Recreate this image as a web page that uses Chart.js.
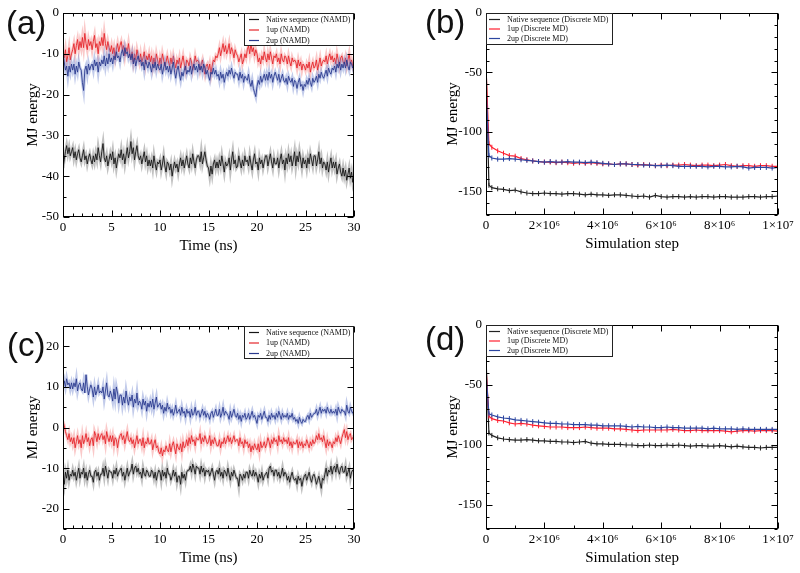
<!DOCTYPE html>
<html><head><meta charset="utf-8">
<script src="https://cdn.jsdelivr.net/npm/chart.js@4.4.1/dist/chart.umd.min.js"></script>
<style>
body{margin:0;background:#fff;width:800px;height:573px;position:relative;overflow:hidden}
canvas{position:absolute}
.lab{position:absolute;font-family:"Liberation Sans",Arial,sans-serif;font-size:33px;line-height:1;color:#111}
</style></head><body>
<canvas id="ca" width="400" height="290" style="left:0;top:0"></canvas>
<canvas id="cb" width="400" height="290" style="left:400px;top:0"></canvas>
<canvas id="cc" width="400" height="283" style="left:0;top:290px"></canvas>
<canvas id="cd" width="400" height="283" style="left:400px;top:290px"></canvas>
<div class="lab" style="left:6px;top:6px">(a)</div>
<div class="lab" style="left:425px;top:5px">(b)</div>
<div class="lab" style="left:7px;top:328px">(c)</div>
<div class="lab" style="left:425px;top:322px">(d)</div>
<script>
// ---------- categories ----------
const timeNs = Array.from({length:241},(_,i)=>i*0.125);
const simSteps = [0,100000,200000,400000,600000,800000,1000000,1200000,1400000,1600000,1800000,2000000,
 2200000,2400000,2600000,2800000,3000000,3200000,3400000,3600000,3800000,4000000,
 4200000,4400000,4600000,4800000,5000000,5200000,5400000,5600000,5800000,6000000,
 6200000,6400000,6600000,6800000,7000000,7200000,7400000,7600000,7800000,8000000,
 8200000,8400000,8600000,8800000,9000000,9200000,9400000,9600000,9800000,10000000];

// ---------- tick labels ----------
const timeTicks = [0,5,10,15,20,25,30];
const timeTickLabels = ['0','5','10','15','20','25','30'];
const timeMinor = [1,2,3,4,6,7,8,9,11,12,13,14,16,17,18,19,21,22,23,24,26,27,28,29];
const stepTicks = [0,2000000,4000000,6000000,8000000,10000000];
const stepTickLabels = ['0','2×10⁶','4×10⁶','6×10⁶','8×10⁶','1×10⁷'];
const stepMinor = [1000000,3000000,5000000,7000000,9000000];
const aYTicks = [-50,-40,-30,-20,-10,0];
const aYTickLabels = ['-50','-40','-30','-20','-10','0'];
const aYMinor = [-45,-35,-25,-15,-5];
const cYTicks = [-20,-10,0,10,20];
const cYTickLabels = ['-20','-10','0','10','20'];
const cYMinor = [-25,-15,-5,5,15,25];
const bdYTicks = [-150,-100,-50,0];
const bdYTickLabels = ['-150','-100','-50','0'];
const bdYMinor = [-170,-160,-140,-130,-120,-110,-90,-80,-70,-60,-40,-30,-20,-10];

// ---------- panel (a) NAMD (8 samples per ns) ----------
const aNative = [
-38,-36,-34,-32.5,-34.5,-33,-35,-34, -33,-35.5,-34,-36,-34.5,-33.5,-35.5,-36.5,
-35,-33.5,-36,-35,-37,-35.5,-34.5,-36, -37,-35,-36.5,-34.5,-36,-33,-35,-36.5,
-34,-32,-35.5,-36.5,-35,-37.5,-36,-34.5, -36,-34,-37,-35.5,-38,-36,-34.5,-35.5,
-33.5,-36,-34.5,-37,-35,-33,-35.5,-34, -31.5,-34.5,-33,-36,-34,-32.5,-35,-36,
-35,-37,-35.5,-34,-36.5,-35,-37.5,-36, -37.5,-36,-38,-35,-37,-38.5,-36.5,-37,
-36,-38.5,-37,-35,-37.5,-39,-36.5,-37, -38.5,-37,-40,-38,-36.5,-38,-37,-39,
-37,-35.5,-37.5,-36,-38,-36.5,-35,-37, -38,-35.5,-37,-34.5,-36.5,-38,-36,-35,
-35,-36.5,-34,-37,-35.5,-34,-36,-37.5, -38,-40,-37.5,-39.5,-37,-36,-38,-36.5,
-38,-36,-37.5,-35,-37,-39,-36.5,-37.5, -37,-35.5,-38.5,-36,-34,-37,-36,-38,
-37.5,-35,-36.5,-38,-36,-37.5,-35,-36.5, -36,-37.5,-35,-37,-38.5,-36,-34.5,-37,
-36.5,-38.5,-35.5,-37,-36,-38,-36.5,-35, -35,-37.5,-36,-34.5,-36.5,-38,-35.5,-37,
-37,-35.5,-38,-36,-34.5,-37,-36,-38.5, -35.5,-37,-34.5,-36.5,-35,-37.5,-36,-34,
-37.5,-35,-36.5,-34,-36,-38,-35.5,-37, -36,-38,-35.5,-37,-34.5,-36,-37.5,-35,
-35,-37.5,-36,-34,-37,-35.5,-38,-36.5, -37,-38.5,-36.5,-39,-37,-35.5,-38,-36.5,
-38,-36.5,-39.5,-38,-37,-39,-40,-38, -40,-38.5,-41,-39.5,-38,-40.5,-39,-41.5, -40];
const a1up = [
-10,-11,-9,-12,-10.5,-8.5,-11.5,-10, -9,-7.5,-10,-8,-6.5,-9,-7,-8.5,
-6,-8.5,-5,-7.5,-9,-6.5,-8,-7, -9,-7,-5.5,-8.5,-7.5,-10,-7,-8,
-6,-8,-5,-7.5,-9,-7,-8.5,-9.5, -8,-10,-8.5,-11,-9,-7.5,-9.5,-8,
-7,-9,-8,-10.5,-8.5,-9.5,-7.5,-10, -11,-9.5,-12,-10,-11.5,-9,-10.5,-12,
-10,-12,-11,-9.5,-12.5,-10.5,-11.5,-10, -12,-10.5,-13,-11,-12.5,-10,-11.5,-13,
-11,-12.5,-10,-11.5,-13,-12,-10.5,-12, -13,-11,-12.5,-10.5,-12,-13.5,-11.5,-12.5,
-11,-13.5,-12,-10.5,-12.5,-14,-11.5,-12, -13,-11,-12,-14,-12.5,-10.5,-12,-11.5,
-12,-14,-12.5,-11.5,-13.5,-15,-13,-12.5, -14,-12.5,-15,-13,-11.5,-12,-10.5,-11,
-10,-8.5,-10.5,-9,-7.5,-9.5,-8,-10, -9,-7.5,-10,-8.5,-9.5,-11,-9,-10,
-10.5,-12,-11,-10,-12.5,-11.5,-10,-11, -9,-8,-10,-7.5,-9.5,-8.5,-10.5,-9,
-10,-12,-11,-12.5,-10.5,-11.5,-9.5,-11, -12,-10,-11.5,-9.5,-11,-12.5,-10.5,-11,
-10,-12,-11,-12.5,-10,-11.5,-12,-10.5, -11,-12.5,-10.5,-12,-13,-11,-12,-11.5,
-12,-13.5,-11.5,-13,-12,-14,-12.5,-13, -14,-12.5,-13.5,-12,-14.5,-13,-12,-13.5,
-13,-11.5,-14,-12.5,-11,-13,-12,-11.5, -12,-10.5,-12.5,-11,-10,-11.5,-10.5,-12,
-11,-12.5,-10,-11.5,-13,-11,-10.5,-12, -12.5,-11,-13,-11.5,-10,-12.5,-11.5,-13, -12];
const a2up = [
-10,-12,-14,-13,-15.5,-13,-14.5,-12.5, -14,-12.5,-15,-13,-14.5,-12,-13.5,-14,
-17,-19,-14,-13,-15,-12.5,-14,-13, -12.5,-14,-11.5,-13,-12,-14.5,-12,-13,
-11.5,-12.5,-10.5,-13,-11,-12.5,-10,-12, -11,-12.5,-10.5,-11.5,-9.5,-11,-10.5,-12,
-10,-9,-10.5,-8.5,-10,-9.5,-11,-10, -11.5,-10,-12.5,-11,-13,-11.5,-10.5,-12,
-11.5,-13,-12,-14,-11.5,-12.5,-13.5,-12, -13,-14.5,-12.5,-13.5,-12,-14,-12.5,-13.5,
-14,-12.5,-15,-13.5,-12,-14,-13,-14.5, -13,-15,-13.5,-12,-14.5,-16,-14,-13,
-15,-16.5,-14.5,-15.5,-14,-13,-15,-14, -14.5,-13,-15,-13.5,-12.5,-14,-13,-14.5,
-12.5,-14,-13,-14.5,-12.5,-13.5,-15,-14, -15.5,-16.5,-14.5,-15,-13.5,-15,-14,-15.5,
-15,-16.5,-14.5,-16,-15,-17,-15.5,-14.5, -15.5,-14,-15,-13.5,-15,-16,-14.5,-15,
-15,-16.5,-14.5,-16,-15,-17,-15.5,-16, -16.5,-15,-17,-18,-16.5,-18.5,-19.5,-20.5,
-18,-16.5,-17.5,-15.5,-17,-16,-15,-16.5, -15,-16.5,-14.5,-16,-15,-17,-15.5,-14.5,
-15.5,-16.5,-15,-17,-16,-15,-16.5,-17, -16,-17.5,-15.5,-16.5,-17,-16,-18,-16.5,
-17,-18.5,-17,-16,-18,-17.5,-19,-17.5, -18,-16.5,-17.5,-16,-17,-18,-16,-17,
-16.5,-15.5,-17,-15,-16,-14.5,-15.5,-16, -15,-14,-15.5,-13.5,-14.5,-15,-13.5,-14,
-13,-14.5,-12.5,-13.5,-12,-14,-12.5,-13.5, -12,-13.5,-11.5,-13,-14,-12,-12.5,-13.5, -12.5];

// ---------- panel (c) NAMD (8 samples per ns) ----------
const cNative = [
-12,-14,-11,-12.5,-10.5,-13,-11.5,-12, -10.5,-12,-11,-13,-11.5,-10,-12.5,-11,
-11.5,-10,-12.5,-11,-13,-11.5,-10.5,-12, -12,-13.5,-11,-10.5,-12,-11,-13,-11.5,
-11.5,-10,-12,-9.5,-11,-12.5,-10.5,-11, -11,-12.5,-10.5,-11.5,-10,-12,-11,-10.5,
-10,-12,-11,-13,-11.5,-10,-12,-11, -10.5,-9,-11.5,-10,-9.5,-11,-10,-11.5,
-11,-12.5,-10,-11.5,-12,-10.5,-11,-12, -12,-10.5,-11,-12.5,-11,-13,-11.5,-10.5,
-11,-13,-10.5,-12,-11,-12.5,-10,-11.5, -11.5,-13,-12,-10.5,-12,-11,-13.5,-12,
-12,-14,-11,-12.5,-11.5,-13,-11,-10.5, -10.5,-9.5,-11,-9,-10,-11.5,-9.5,-10,
-10,-11.5,-9.5,-11,-10,-12,-10.5,-11, -10.5,-12,-11,-10,-11.5,-13,-11,-10.5,
-11.5,-10,-12,-11,-12.5,-10.5,-11,-12, -10,-11.5,-13,-11,-12,-10.5,-11.5,-12.5,
-12.5,-14.5,-11.5,-12,-13,-11.5,-12.5,-11, -11,-12.5,-10.5,-11.5,-12,-10.5,-12,-11,
-12,-13.5,-11.5,-12.5,-11,-13,-12,-11.5, -11,-12.5,-10,-9.5,-11,-10.5,-12,-10.5,
-10.5,-12,-11,-12.5,-11.5,-10,-12,-11, -11.5,-13,-12,-13.5,-12,-11,-12.5,-13,
-12.5,-14,-12,-13,-12.5,-14.5,-13,-12, -11.5,-13,-12,-11,-12.5,-13.5,-12,-11.5,
-12.5,-14,-13,-12,-13.5,-15,-12.5,-13, -11.5,-10,-12,-10.5,-11,-9.5,-11.5,-10,
-9.5,-11,-9,-10.5,-11.5,-10,-9.5,-11, -11,-9.5,-12,-11,-10,-12.5,-11,-10.5, -11];
const c1up = [
1.5,0.5,-1,-2,-3,-1.5,-3.5,-2.5, -4,-2.5,-5,-3.5,-2,-4,-3,-5,
-2,-4,-3,-1.5,-3.5,-2.5,-4.5,-3, -2.5,-4.5,-1,-2,-3.5,-1.5,-3,-2,
-1.5,-3,-2,-4,-1,-2.5,-3.5,-2, -3.5,-2,-4.5,-2.5,-3,-5,-3,-2,
-1.5,-3,-2,-4,-2.5,-1,-3,-3.5, -2.5,-4,-3,-5,-3.5,-2,-4,-3,
-3,-4.5,-2.5,-5,-3.5,-4,-2.5,-4, -4,-3,-5.5,-4,-3,-5,-4.5,-6,
-6.5,-5,-7,-5.5,-6,-4.5,-5.5,-6, -4,-6,-4.5,-3.5,-5,-6.5,-4,-5,
-5.5,-4,-6,-3.5,-5,-4.5,-3,-4.5, -2.5,-4,-2,-3.5,-3,-4.5,-2.5,-3,
-3,-1.5,-4,-2.5,-3.5,-2,-3,-4, -3.5,-2,-4.5,-3,-4,-2.5,-3.5,-4.5,
-4.5,-3,-5,-3.5,-4,-2.5,-4,-3, -2,-3.5,-2.5,-4,-3,-2,-3.5,-3,
-3,-4.5,-2.5,-4,-3.5,-5,-3,-4, -3.5,-5,-4,-6,-4.5,-5.5,-4,-5,
-5.5,-4,-6,-3.5,-5,-4.5,-3.5,-5, -4,-2.5,-3.5,-5,-3,-4,-2.5,-3.5,
-3,-4.5,-2,-3.5,-3,-4,-2.5,-3.5, -3,-4,-2.5,-4.5,-3.5,-5,-3.5,-4,
-4,-3,-5,-3.5,-4.5,-3.5,-5,-4, -4.5,-3,-4,-5,-3.5,-4.5,-3,-4,
-3.5,-2,-3,-1.5,-3,-2.5,-3.5,-2, -3.5,-5,-3,-4.5,-3.5,-4,-5,-3.5,
-4,-2.5,-3.5,-2,-3,-4,-2.5,-1.5, -0.5,-2.5,-1,-3,-2,-1.5,-3,-2.5, -2];
const c2up = [
10,11.5,10,12,10.5,11,9.5,11, 9.5,11,10,12,9,10.5,11,9.5,
9,11,8.5,13,10,8,9.5,10.5, 9.5,7.5,10,8,9,10.5,8.5,9,
8.5,10,7,9,11,8,7.5,9, 8,6.5,9.5,7,10,8.5,6,8,
8,5.5,7.5,6,9,7,5.5,7.5, 6.5,8,5,7,6,8.5,5.5,6.5,
6,4.5,7,5.5,6.5,4,6,5, 6.5,5,7,4.5,6,7.5,5,5.5,
6,4.5,5.5,3.5,5,4,6,4.5, 5,3.5,4.5,3,4,5.5,3.5,4,
4.5,3,5,3.5,4,2.5,4.5,3.5, 4,2.5,4.5,3,3.5,5,3,4,
4,2.5,3.5,4.5,3,4,2.5,3.5, 3,2,3.5,4,2.5,3.5,4.5,3,
3,4.5,2.5,3.5,5,3,4,3.5, 3,2,4,2.5,3.5,4.5,3,2.5,
3.5,2,3,1.5,3,2.5,3.5,2, 2.5,3.5,2,3,4,2.5,3,2,
1,3,2.5,3.5,2,3,4,2.5, 2.5,1.5,3,2,3.5,2.5,3,2,
3.5,2.5,4,3,2,3.5,2.5,3, 2.5,3.5,2,3,2.5,3.5,2,2.5,
1.5,2,1,2.5,1.5,1,2,1.5, 1.5,2.5,3,2,3.5,2.5,3,3.5,
3.5,4.5,3,4,5,3.5,4.5,4, 4.5,3.5,5,4,3.5,4.5,3.5,4,
3.5,4.5,3,5,4,3.5,4.5,4, 4,3,5.5,4,3.5,5,4,3.5, 4.5];

// ---------- panel (b) Discrete MD ----------
const bNative = [-40,-145,-147,-148,-148.5,-149.5,-149,-150.5,-151.5,-152,-152,-151.5,-152,-152,-152.5,-152,-152,-152.5,-153,-152.5,-153,-153,-153.5,-153,-153,-153.5,-154,-154.5,-154,-155,-153.5,-154.5,-155,-154.5,-154.5,-155,-154.5,-155,-154.5,-154.5,-155,-154.5,-154.5,-155,-155,-155,-154.5,-154.5,-155,-154.5,-154.5,-154];
const b1up = [-45,-110,-113,-116,-118,-120,-120.5,-122.5,-123.5,-124.5,-125,-125.5,-125.5,-126,-125.5,-126,-126.5,-126,-126.5,-126,-126.5,-127,-127,-127.5,-127,-127,-127.5,-128,-127.5,-128,-128.5,-128,-128.5,-128,-128,-127.5,-128,-128.5,-128,-128,-128.5,-128,-127.5,-128.5,-129,-128.5,-128.5,-129,-128.5,-128.5,-129,-129];
const b2up = [-60,-120,-122,-123,-123,-122.5,-123,-123.5,-124,-124.5,-125,-125.5,-125,-125.5,-125.5,-125,-125.5,-125.5,-126,-125.5,-126,-126.5,-127,-127.5,-127,-127,-127.5,-127.5,-128,-128,-128.5,-128.5,-128,-128.5,-129,-129,-129,-129,-129,-129.5,-129,-129,-129.5,-129.5,-129,-129.5,-130.5,-130,-130,-130,-130.5,-130];

// ---------- panel (d) Discrete MD ----------
const dNative = [-28,-90,-92,-94,-95,-95.5,-96,-96,-95.5,-96,-96.5,-96.5,-97,-97,-97.5,-97.5,-98,-97.5,-97,-98.5,-99,-99,-99.5,-99.5,-99.5,-100,-100,-100.5,-100.5,-100,-100.5,-100.5,-100,-100.5,-100,-100.5,-101,-100.5,-100.5,-101,-101,-100.5,-101,-101.5,-101,-101.5,-102,-102,-102.5,-102,-102,-102];
const d1up = [-35,-76,-78,-79.5,-80,-81.5,-82.5,-82,-82.5,-83.5,-84,-84.5,-85,-85,-85,-85.5,-85.5,-85.5,-85,-85.5,-86,-86,-86,-86.5,-86.5,-87,-87.5,-88,-87.5,-87.5,-87.5,-87.5,-87.5,-87,-87.5,-88,-88,-87.5,-88,-88,-88,-88,-88.5,-89,-88.5,-88,-88,-88.5,-88,-88,-88,-88.5];
const d2up = [-40,-74,-75,-76.5,-77.5,-78,-79,-79.5,-80,-80.5,-81,-81.5,-82,-82,-82.5,-82.5,-83,-83,-83,-83.5,-83.5,-84,-84,-84,-84,-84.5,-85,-84.5,-85,-85,-85.5,-85.5,-85,-85.5,-85.5,-86,-86,-86,-86,-86.5,-86,-86.5,-86.5,-86.5,-87,-86.5,-87,-87,-87,-87,-87,-87];

// ---------- rendering ----------
const SERIF = '"Liberation Serif","Times New Roman",serif';

const framePlugin = {
  id: 'frame',
  afterDatasetsDraw(chart, args, o) {
    const {ctx, chartArea: a, scales: {x, y}} = chart;
    ctx.save();
    ctx.strokeStyle = '#000';
    ctx.lineWidth = 1;
    const L = Math.round(a.left) + 0.5, R = Math.round(a.right) - 0.5;
    const T = Math.round(a.top) + 0.5, B = Math.round(a.bottom) - 0.5;
    ctx.beginPath();
    const tx = (vals, len) => vals.forEach(v => {
      const p = Math.round(x.getPixelForValue(v)) + 0.5;
      ctx.moveTo(p, B); ctx.lineTo(p, B - len);
      ctx.moveTo(p, T); ctx.lineTo(p, T + len);
    });
    const ty = (vals, len) => vals.forEach(v => {
      const p = Math.round(y.getPixelForValue(v)) + 0.5;
      ctx.moveTo(L, p); ctx.lineTo(L + len, p);
      ctx.moveTo(R, p); ctx.lineTo(R - len, p);
    });
    tx(o.xMajor, 6); tx(o.xMinor, 3); ty(o.yMajor, 6); ty(o.yMinor, 3);
    ctx.stroke();
    ctx.strokeRect(L, T, R - L, B - T);
    // legend box
    const lg = o.legend;
    const bx = lg.side === 'right' ? Math.round(a.right) - lg.w : Math.round(a.left);
    const by = Math.round(a.top);
    ctx.fillStyle = '#fff';
    ctx.fillRect(bx, by, lg.w, lg.h);
    ctx.strokeStyle = '#222';
    ctx.strokeRect(bx + 0.5, by + 0.5, lg.w - 1, lg.h - 1);
    ctx.font = '8px ' + SERIF;
    ctx.textBaseline = 'middle';
    ctx.textAlign = 'left';
    const items = chart.data.datasets.filter(d => !d.isBand);
    items.forEach((d, i) => {
      const yy = by + lg.rows[i];
      ctx.strokeStyle = d.borderColor;
      ctx.lineWidth = 1.2;
      ctx.beginPath();
      ctx.moveTo(bx + lg.l0, yy + 0.5); ctx.lineTo(bx + lg.l1, yy + 0.5);
      ctx.stroke();
      ctx.fillStyle = '#111';
      ctx.fillText(d.label, bx + lg.tx, yy + 0.5);
    });
    ctx.restore();
  }
};

function makePanel(id, p) {
  const datasets = [];
  let ord = 100;
  p.series.forEach(s => {
    const pts = s.values.map((v, i) => ({x: p.x[i], y: v}));
    if (s.band) datasets.push({label: s.label, isBand: true, data: pts, borderColor: s.band,
      borderWidth: 3, pointRadius: 0, order: ord--, tension: 0});
    datasets.push({label: s.label, data: pts, borderColor: s.color, borderWidth: p.lw,
      pointRadius: p.markers ? (c => c.dataIndex === 0 ? 0 : 2.5) : 0,
      pointStyle: 'line', rotation: 90, pointBorderColor: s.color, pointBorderWidth: 1,
      order: ord--, tension: 0});
  });
  new Chart(document.getElementById(id), {
    type: 'line',
    data: {datasets},
    plugins: [framePlugin],
    options: {
      responsive: false, animation: false, devicePixelRatio: 1,
      layout: {padding: {left: 0, right: p.padR, top: p.padT, bottom: 0}},
      plugins: {legend: {display: false}, tooltip: {enabled: false},
        frame: {xMajor: p.xTicks, xMinor: p.xMinor, yMajor: p.yTicks, yMinor: p.yMinor, legend: p.legend}},
      scales: {
        x: {type: 'linear', min: p.xMin, max: p.xMax,
          afterBuildTicks: s => { s.ticks = p.xTicks.map(v => ({value: v})); },
          afterFit: s => { s.height = p.xAxisH; },
          ticks: {callback: (v, i) => p.xLabels[i], font: {family: SERIF, size: 13}, color: '#000',
            padding: 3, maxRotation: 0, autoSkip: false},
          grid: {display: false, drawTicks: false}, border: {display: false},
          title: {display: true, text: p.xTitle, color: '#000', font: {family: SERIF, size: 15},
            padding: {top: 0, bottom: p.xTitlePad}}},
        y: {type: 'linear', min: p.yMin, max: p.yMax,
          afterBuildTicks: s => { s.ticks = p.yTicks.map(v => ({value: v})); },
          afterFit: s => { s.width = p.yAxisW; },
          ticks: {callback: (v, i) => p.yLabels[i], font: {family: SERIF, size: 13}, color: '#000',
            padding: 4, autoSkip: false},
          grid: {display: false, drawTicks: false}, border: {display: false},
          title: {display: true, text: 'MJ energy', color: '#000', font: {family: SERIF, size: 15},
            padding: {top: p.yTitlePad, bottom: 0}}}
      }
    }
  });
}

const namdLegend = {side: 'right', w: 110, h: 33, rows: [6, 16.5, 27], l0: 5, l1: 15, tx: 22};
const dmdLegend = {side: 'left', w: 127, h: 32, rows: [6, 15.5, 25], l0: 3, l1: 14, tx: 21};

makePanel('ca', {x: timeNs, xMin: 0, xMax: 30, yMin: -50, yMax: 0, lw: 0.9,
  xTicks: timeTicks, xLabels: timeTickLabels, xMinor: timeMinor,
  yTicks: aYTicks, yLabels: aYTickLabels, yMinor: aYMinor,
  yAxisW: 63, xAxisH: 73, padT: 13, padR: 46, xTitle: 'Time (ns)', xTitlePad: 35, yTitlePad: 24,
  legend: namdLegend,
  series: [
    {label: 'Native sequence (NAMD)', values: aNative, color: '#151515', band: 'rgba(100,100,100,0.4)'},
    {label: '1up (NAMD)', values: a1up, color: '#e5262b', band: 'rgba(240,100,100,0.35)'},
    {label: '2up (NAMD)', values: a2up, color: '#2a3a8e', band: 'rgba(110,130,205,0.42)'}]});

makePanel('cb', {x: simSteps, xMin: 0, xMax: 10000000, yMin: -170, yMax: 0, lw: 1.2, markers: true,
  xTicks: stepTicks, xLabels: stepTickLabels, xMinor: stepMinor,
  yTicks: bdYTicks, yLabels: bdYTickLabels, yMinor: bdYMinor,
  yAxisW: 86, xAxisH: 75, padT: 13, padR: 22, xTitle: 'Simulation step', xTitlePad: 37, yTitlePad: 44,
  legend: dmdLegend,
  series: [
    {label: 'Native sequence (Discrete MD)', values: bNative, color: '#222'},
    {label: '1up (Discrete MD)', values: b1up, color: '#ff1f2f'},
    {label: '2up (Discrete MD)', values: b2up, color: '#2c46a0'}]});

makePanel('cc', {x: timeNs, xMin: 0, xMax: 30, yMin: -25, yMax: 25, lw: 0.9,
  xTicks: timeTicks, xLabels: timeTickLabels, xMinor: timeMinor,
  yTicks: cYTicks, yLabels: cYTickLabels, yMinor: cYMinor,
  yAxisW: 63, xAxisH: 44, padT: 36, padR: 46, xTitle: 'Time (ns)', xTitlePad: 6, yTitlePad: 24,
  legend: namdLegend,
  series: [
    {label: 'Native sequence (NAMD)', values: cNative, color: '#151515', band: 'rgba(100,100,100,0.4)'},
    {label: '1up (NAMD)', values: c1up, color: '#e5262b', band: 'rgba(240,100,100,0.35)'},
    {label: '2up (NAMD)', values: c2up, color: '#2a3a8e', band: 'rgba(110,130,205,0.42)'}]});

makePanel('cd', {x: simSteps, xMin: 0, xMax: 10000000, yMin: -170, yMax: 0, lw: 1.2, markers: true,
  xTicks: stepTicks, xLabels: stepTickLabels, xMinor: stepMinor,
  yTicks: bdYTicks, yLabels: bdYTickLabels, yMinor: bdYMinor,
  yAxisW: 86, xAxisH: 44, padT: 35, padR: 22, xTitle: 'Simulation step', xTitlePad: 6, yTitlePad: 44,
  legend: dmdLegend,
  series: [
    {label: 'Native sequence (Discrete MD)', values: dNative, color: '#222'},
    {label: '1up (Discrete MD)', values: d1up, color: '#ff1f2f'},
    {label: '2up (Discrete MD)', values: d2up, color: '#2c46a0'}]});
</script>
</body></html>
